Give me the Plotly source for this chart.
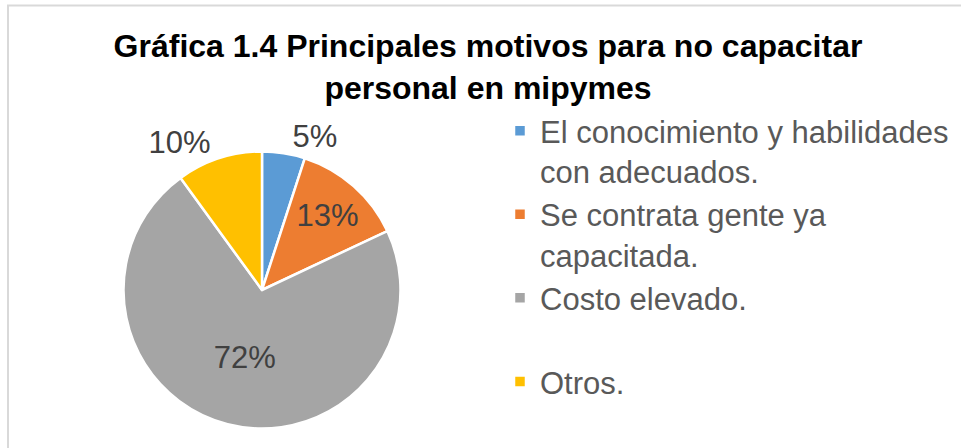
import plotly.graph_objects as go

# datos de la gráfica
categorias = [
    "El conocimiento y habilidades<br>con adecuados.",
    "Se contrata gente ya<br>capacitada.",
    "Costo elevado.<br> ",
    "Otros.",
]
porcentajes = [5, 13, 72, 10]
colores = ["#5B9BD5", "#ED7D31", "#A5A5A5", "#FFC000"]
posicion_texto = ["outside", "inside", "inside", "outside"]

W, H = 961, 448
cx, cy, r = 262, 290, 138.5  # centro y radio del pastel en píxeles

fig = go.Figure()

fig.add_trace(go.Pie(
    labels=categorias,
    values=porcentajes,
    sort=False,
    direction="clockwise",
    rotation=0,
    marker=dict(colors=colores, line=dict(color="white", width=2.5)),
    textinfo="percent",
    texttemplate="%{percent:.0%}",
    textposition=posicion_texto,
    insidetextorientation="horizontal",
    textfont=dict(size=31, color="#404040"),
    outsidetextfont=dict(size=31, color="#404040"),
    insidetextfont=dict(size=31, color="#404040"),
    domain=dict(x=[(cx - r) / W, (cx + r) / W],
                y=[1 - (cy + r) / H, 1 - (cy - r) / H]),
    hoverinfo="label+percent",
))

fig.update_layout(
    width=W, height=H,
    margin=dict(l=0, r=0, t=0, b=0),
    paper_bgcolor="white",
    font=dict(family="Liberation Sans, Arial, sans-serif", color="#595959"),
    title=dict(
        text="<b>Gráfica 1.4 Principales motivos para no capacitar<br>personal en mipymes</b>",
        font=dict(size=32, color="#000000"),
        x=488 / W, xanchor="center",
        y=1 - 57 / H, yanchor="top", yref="container",
    ),
    legend=dict(
        x=500 / W, xanchor="left",
        y=1 - 104 / H, yanchor="top",
        font=dict(size=31, color="#595959"),
        valign="top",
        itemwidth=30,
        bgcolor="rgba(0,0,0,0)",
        tracegroupgap=0,
    ),
    uniformtext=dict(minsize=31, mode="show"),
    shapes=[dict(
        type="rect", xref="paper", yref="paper",
        x0=8 / W, x1=1.02, y0=-0.02, y1=1 - 5.5 / H,
        line=dict(color="#D9D9D9", width=2),
    )],
)

# sin margen del body para que la figura empiece en (0, 0)
fig.write_html("out.html", config={"displayModeBar": False},
               post_script="document.body.style.margin='0';")
